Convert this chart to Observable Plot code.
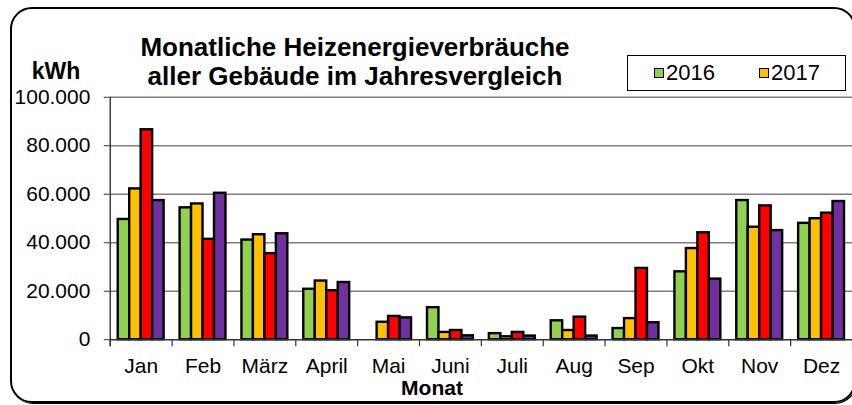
<!DOCTYPE html>
<html><head><meta charset="utf-8">
<script src="https://cdn.jsdelivr.net/npm/d3@7"></script>
<script src="https://cdn.jsdelivr.net/npm/@observablehq/plot@0.6"></script>
<style>
html,body{margin:0;padding:0;overflow:hidden;background:#fff;}
#wrap{position:relative;width:852px;height:405px;overflow:hidden;font-family:"Liberation Sans",Arial,sans-serif;}
#frame{position:absolute;left:10px;top:7px;width:846px;height:396px;border:2px solid #000;border-radius:22px;box-sizing:border-box;box-shadow:1px 1px 0 #000;}
#chart{position:absolute;left:0;top:0;}
.t{position:absolute;font-weight:bold;white-space:nowrap;color:#000;transform:translateX(-50%);}
#t1{left:355px;top:32.5px;font-size:26px;line-height:29px;}
#t2{left:355px;top:61.5px;font-size:26px;line-height:29px;}
#kwh{left:56px;top:60px;font-size:23px;line-height:23px;}
#monat{left:432px;top:377px;font-size:21px;line-height:21px;}
#legend{position:absolute;left:627px;top:55px;width:219px;height:36px;border:1.3px solid #000;box-sizing:border-box;font-size:22px;}
.li{position:absolute;top:4px;display:flex;align-items:center;line-height:26px;}
.sw{width:8px;height:8px;border:1.6px solid #000;margin-right:2px;}
</style></head>
<body><div id="wrap">
<div id="frame"></div>
<div id="chart"></div>
<div class="t" id="t1">Monatliche Heizenergieverbräuche</div>
<div class="t" id="t2">aller Gebäude im Jahresvergleich</div>
<div class="t" id="kwh">kWh</div>
<div class="t" id="monat">Monat</div>
<div id="legend"></div>
</div>
<script>
const months = ["Jan","Feb","März","April","Mai","Juni","Juli","Aug","Sep","Okt","Nov","Dez"];
const seriesNames = ["2016","2017","2018","2019"];
const legendNames = ["2016","2017"];
const colors = ["#92D050","#FFC000","#FF0000","#7030A0"];
const v2016 = [49600,54400,41100,20800,0,13200,2500,7800,4600,28000,57400,48000];
const v2017 = [62200,56000,43300,24200,7200,3000,1200,3800,8700,37600,46400,49900];
const v2018 = [86600,41400,35500,20200,9600,3800,3000,9300,29400,44100,55200,52200];
const v2019 = [57400,60400,43700,23600,9000,1600,1500,1500,7000,25000,45000,57000];
const yTicks = [0,20000,40000,60000,80000,100000];

const values = [v2016,v2017,v2018,v2019];
const rows = [];
seriesNames.forEach((s,k)=>months.forEach((m,i)=>rows.push({month:m, series:s, value:values[k][i]})));

const de = d3.formatLocale({decimal:",", thousands:".", grouping:[3], currency:["","€"]});
const fmt = de.format(",d");

const step = 62, pad = 8, bw = (step - 2*pad)/4;
const barMarks = seriesNames.map((s,k)=>Plot.barY(rows.filter(r=>r.series===s), {
  x:"month", y:"value", fill: colors[k], stroke:"#000", strokeWidth:2.4,
  insetLeft: pad + bw*k, insetRight: step - pad - bw*(k+1)
}));

const chart = Plot.plot({
  width: 854, height: 405,
  marginLeft: 110, marginRight: 0, marginTop: 97, marginBottom: 65,
  style:{fontFamily:'"Liberation Sans",Arial,sans-serif', background:"transparent", overflow:"visible"},
  x:{domain: months, padding:0, round:false, axis:null},
  y:{domain:[0,100000], axis:null},
  marks:[
    Plot.gridY(yTicks.slice(1), {stroke:"#7f7f7f", strokeOpacity:1, strokeWidth:1.4}),
    ...barMarks,
    Plot.ruleY([0], {stroke:"#333", strokeWidth:1.4}),
    Plot.ruleX(months, {x:d=>d, y1:0, y2:-2900, dx:-step/2, stroke:"#333", strokeWidth:1.2}),
    Plot.ruleX([months[months.length-1]], {x:d=>d, y1:0, y2:-2900, dx:step/2, stroke:"#333", strokeWidth:1.2}),
    Plot.ruleX([months[0]], {x:d=>d, y1:-2900, y2:100000, dx:-step/2, stroke:"#333", strokeWidth:1.4}),
    Plot.axisY({ticks: yTicks, tickFormat: fmt, tickSize:6, tickPadding:14, fontSize:21, stroke:"#333", fill:"#000", label:null}),
    Plot.axisX({tickSize:0, tickPadding:18, fontSize:21, fill:"#000", label:null})
  ]
});
document.getElementById("chart").appendChild(chart);

const lg = document.getElementById("legend");
const lx = [26, 131];
legendNames.forEach((n,k)=>{
  const d = document.createElement("div");
  d.className="li"; d.style.left = lx[k]+"px";
  d.innerHTML = `<span class="sw" style="background:${colors[k]}"></span><span>${n}</span>`;
  lg.appendChild(d);
});
</script>
</body></html>
